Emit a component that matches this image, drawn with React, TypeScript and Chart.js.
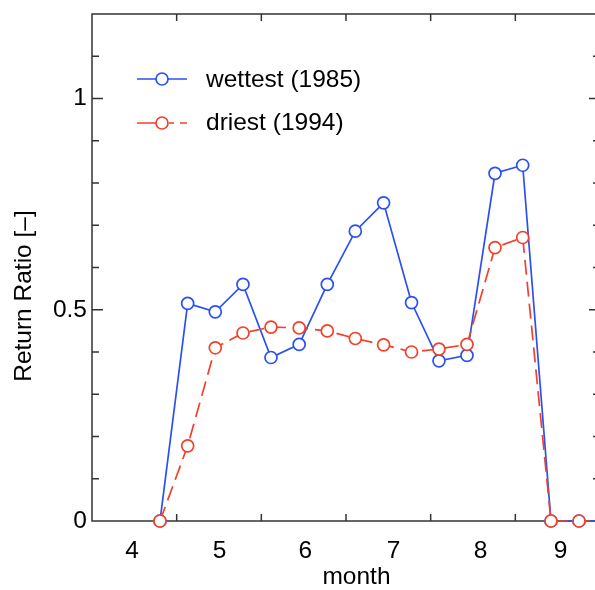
import React, { useEffect, useRef } from 'react';
import { Chart, registerables } from 'chart.js';

Chart.register(...registerables);

// ---- data ----
const monthPos = [4.803, 5.130, 5.456, 5.783, 6.114, 6.447, 6.779, 7.110, 7.444, 7.774, 8.098, 8.429, 8.760, 9.087, 9.421, 9.752, 10.082];
const wettest = [0, 0.515, 0.495, 0.560, 0.387, 0.418, 0.560, 0.686, 0.753, 0.517, 0.379, 0.392, 0.823, 0.842, 0, 0, 0];
const driest = [0, 0.178, 0.410, 0.445, 0.459, 0.457, 0.450, 0.432, 0.417, 0.400, 0.407, 0.418, 0.647, 0.671, 0, 0, 0];

const xLabelPos = [4.472, 5.506, 6.519, 7.561, 8.588, 9.533];
const xLabels = ['4', '5', '6', '7', '8', '9'];
const xTickMarks = [5, 6, 7, 8, 9];
const yLabelVals = [0, 0.5, 1];
const yLabels = ['0', '0.5', '1'];
const yTickMarks = [0.1, 0.2, 0.3, 0.4, 0.5, 0.6, 0.7, 0.8, 0.9, 1.0, 1.1];
const yMajorMarks = [0.5, 1.0];

const seriesNames = ['wettest (1985)', 'driest (1994)'];

const BLUE = '#2a50f2';
const RED = '#f2402a';
const AXIS = '#333333';
const FONT = '"Liberation Sans", Arial, Helvetica, sans-serif';
const FSIZE = 24.5;
const LW = 1.7;
const PR = 6;

const framePlugin = {
  id: 'frame',
  beforeDatasetsDraw(chart: any) {
    const { ctx, chartArea, scales } = chart;
    const { left, right, top, bottom } = chartArea;
    const x = scales.x, y = scales.y;
    ctx.save();
    ctx.strokeStyle = AXIS;
    ctx.lineWidth = 1.5;
    ctx.strokeRect(left, top, right - left, bottom - top);
    ctx.beginPath();
    xTickMarks.forEach((v) => {
      const px = x.getPixelForValue(v);
      ctx.moveTo(px, bottom); ctx.lineTo(px, bottom - 7);
      ctx.moveTo(px, top); ctx.lineTo(px, top + 7);
    });
    yTickMarks.forEach((v) => {
      const py = y.getPixelForValue(v);
      const len = yMajorMarks.some((m) => Math.abs(m - v) < 1e-6) ? 11 : 7;
      ctx.moveTo(left, py); ctx.lineTo(left + len, py);
      ctx.moveTo(right, py); ctx.lineTo(right - len, py);
    });
    ctx.stroke();

    // axis titles
    ctx.fillStyle = '#000';
    ctx.font = `${FSIZE}px ${FONT}`;
    ctx.textAlign = 'center';
    ctx.textBaseline = 'alphabetic';
    ctx.fillText('month', 356.5, 584);
    ctx.save();
    ctx.translate(31, 296);
    ctx.rotate(-Math.PI / 2);
    ctx.fillText('Return Ratio [–]', 0, 0);
    ctx.restore();
    ctx.restore();
  },
  afterDatasetsDraw(chart: any) {
    const { ctx } = chart;
    ctx.save();
    ctx.lineWidth = LW;
    // blue entry
    ctx.strokeStyle = BLUE;
    ctx.beginPath();
    ctx.moveTo(137, 79); ctx.lineTo(187, 79);
    ctx.stroke();
    ctx.beginPath();
    ctx.arc(162, 79, PR, 0, Math.PI * 2);
    ctx.fillStyle = '#fff'; ctx.fill(); ctx.stroke();
    // red entry
    ctx.strokeStyle = RED;
    ctx.beginPath();
    ctx.moveTo(137, 123); ctx.lineTo(157, 123);
    ctx.moveTo(169, 123); ctx.lineTo(174, 123);
    ctx.moveTo(180, 123); ctx.lineTo(187, 123);
    ctx.stroke();
    ctx.beginPath();
    ctx.arc(162, 123, PR, 0, Math.PI * 2);
    ctx.fillStyle = '#fff'; ctx.fill(); ctx.stroke();
    ctx.fillStyle = '#000';
    ctx.font = `${FSIZE}px ${FONT}`;
    ctx.textAlign = 'left';
    ctx.textBaseline = 'alphabetic';
    ctx.fillText(seriesNames[0], 206, 87);
    ctx.fillText(seriesNames[1], 206, 130);
    ctx.restore();
  },
};

export default function App() {
  const ref = useRef<HTMLCanvasElement | null>(null);
  useEffect(() => {
    if (!ref.current) return;
    const chart = new Chart(ref.current, {
      type: 'line',
      data: {
        datasets: [
          {
            label: seriesNames[0],
            data: monthPos.map((x, i) => ({ x, y: wettest[i] })),
            borderColor: BLUE,
            borderWidth: LW,
            pointRadius: PR,
            pointBorderWidth: LW,
            pointBorderColor: BLUE,
            pointBackgroundColor: '#fff',
            tension: 0,
            clip: false,
            order: 1,
          },
          {
            label: seriesNames[1],
            data: monthPos.map((x, i) => ({ x, y: driest[i] })),
            borderColor: RED,
            borderWidth: LW,
            borderDash: [15, 7],
            pointRadius: PR,
            pointBorderWidth: LW,
            pointBorderColor: RED,
            pointBackgroundColor: '#fff',
            tension: 0,
            clip: false,
            order: 0,
          },
        ],
      } as any,
      options: {
        responsive: false,
        animation: false,
        devicePixelRatio: 1,
        layout: { padding: { left: 0, top: 14, right: 12, bottom: 0 } },
        plugins: { legend: { display: false }, tooltip: { enabled: false } },
        scales: {
          x: {
            type: 'linear',
            min: 4,
            max: 10,
            grid: { display: false, drawTicks: false },
            border: { display: false },
            afterBuildTicks: (s: any) => { s.ticks = xLabelPos.map((v) => ({ value: v })); },
            ticks: {
              autoSkip: false,
              maxRotation: 0,
              padding: 16,
              color: '#000',
              font: { family: FONT, size: FSIZE },
              callback: (_v: any, i: number) => xLabels[i],
            },
            afterFit: (s: any) => {
              s.height = 69;
              s.paddingLeft = 0; s.paddingRight = 0; s.paddingTop = 0; s.paddingBottom = 0;
            },
          },
          y: {
            type: 'linear',
            min: 0,
            max: 1.2,
            grid: { display: false, drawTicks: false },
            border: { display: false },
            afterBuildTicks: (s: any) => { s.ticks = yLabelVals.map((v) => ({ value: v })); },
            ticks: {
              autoSkip: false,
              padding: 5,
              color: '#000',
              font: { family: FONT, size: FSIZE },
              callback: (_v: any, i: number) => yLabels[i],
            },
            afterFit: (s: any) => {
              s.width = 92;
              s.paddingLeft = 0; s.paddingRight = 0; s.paddingTop = 0; s.paddingBottom = 0;
            },
          },
        },
      } as any,
      plugins: [framePlugin],
    });
    return () => chart.destroy();
  }, []);

  return (
    <div style={{ position: 'fixed', left: 0, top: 0, width: 595, height: 590, overflow: 'hidden', background: '#fff' }}>
      <canvas ref={ref} width={612} height={590} style={{ display: 'block' }} />
    </div>
  );
}
